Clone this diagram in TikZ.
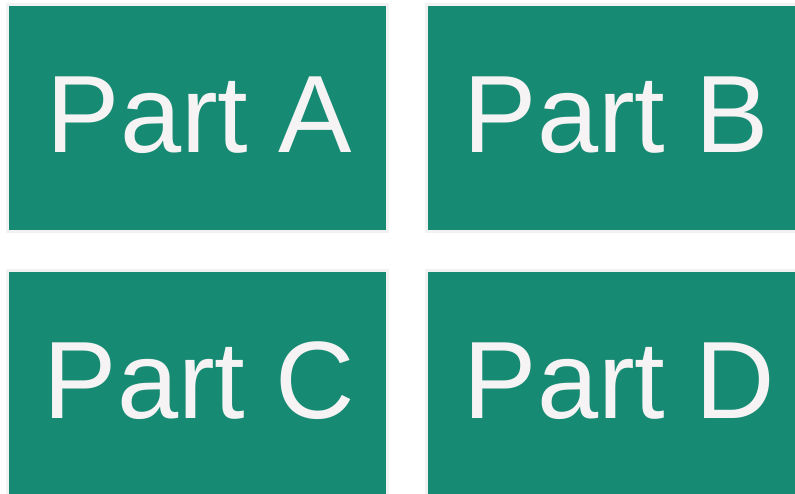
\documentclass[tikz,border=0pt]{standalone}
\usepackage{fontspec}
\setmainfont{Liberation Sans}
\usepackage{xcolor}
\usetikzlibrary{calc}
\definecolor{partgreen}{RGB}{23,138,116}
\definecolor{partedge}{RGB}{243,242,243}
\definecolor{parttext}{RGB}{245,243,243}
\begin{document}
\begin{tikzpicture}[x=1pt, y=-1pt,
    partbox/.style={rectangle, draw=partedge, line width=3pt, fill=partgreen,
        minimum width=380pt, minimum height=227pt, inner sep=0pt},
    partlbl/.style={anchor=base, inner sep=0pt, text=parttext,
        font=\fontsize{110}{110}\selectfont}
]
    \useasboundingbox (0,0) rectangle (795,493);
    \clip (0,0) rectangle (795,493);

    \node[partbox] (boxA) at (197.5,118) {};
    \node[partbox] (boxB) at (616.5,118) {};
    \node[partbox] (boxC) at (197.5,384) {};
    \node[partbox] (boxD) at (616.5,384) {};

    % Labels
    \node[partlbl] (lblA) at ($(boxA.center)+(2,34)$) {Part A};
    \node[partlbl] (lblB) at ($(boxB.center)+(0,34)$) {Part B};
    \node[partlbl] (lblC) at ($(boxC.center)+(2,34)$) {Part C};
    \node[partlbl] (lblD) at ($(boxD.center)+(3,34)$) {Part D};
\end{tikzpicture}
\end{document}
